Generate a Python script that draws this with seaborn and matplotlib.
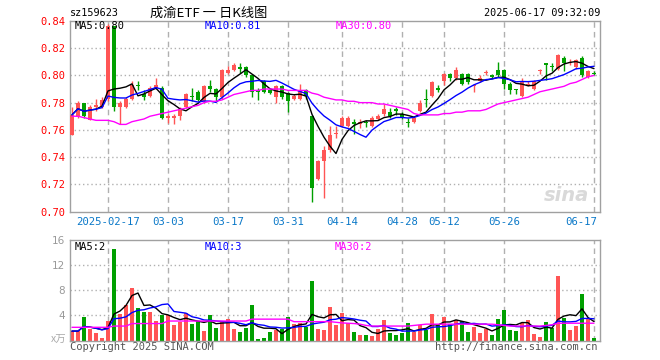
import matplotlib
matplotlib.use("Agg")
import matplotlib.pyplot as plt
import pandas as pd
import seaborn as sns
import numpy as np

# daily candles, 2025-02-07 .. 2025-06-17 (88 trading days)
opens = [0.756, 0.770, 0.780, 0.767, 0.777, 0.777, 0.783, 0.836, 0.777, 0.777,
         0.783, 0.793, 0.786, 0.785, 0.791, 0.791, 0.769, 0.769, 0.770, 0.777,
         0.785, 0.788, 0.781, 0.792, 0.790, 0.784, 0.802, 0.804, 0.806, 0.806,
         0.800, 0.789, 0.796, 0.789, 0.784, 0.792, 0.787, 0.783, 0.783, 0.789,
         0.770, 0.724, 0.737, 0.745, 0.757, 0.763, 0.763, 0.766, 0.764, 0.766,
         0.763, 0.768, 0.772, 0.773, 0.775, 0.772, 0.766, 0.766, 0.774, 0.783,
         0.785, 0.791, 0.796, 0.801, 0.798, 0.801, 0.801, 0.792, 0.796, 0.8015,
         0.800, 0.804, 0.804, 0.794, 0.790, 0.785, 0.793, 0.790, 0.803, 0.809,
         0.807, 0.805, 0.813, 0.809, 0.806, 0.813, 0.799, 0.802]
closes = [0.771, 0.780, 0.770, 0.777, 0.778, 0.782, 0.836, 0.777, 0.780, 0.783,
          0.793, 0.792, 0.784, 0.791, 0.793, 0.769, 0.770, 0.770, 0.775, 0.786,
          0.784, 0.782, 0.792, 0.790, 0.784, 0.804, 0.804, 0.808, 0.805, 0.800,
          0.788, 0.788, 0.788, 0.787, 0.792, 0.784, 0.781, 0.785, 0.789, 0.785,
          0.717, 0.737, 0.745, 0.756, 0.758, 0.769, 0.769, 0.764, 0.766, 0.765,
          0.769, 0.770, 0.775, 0.770, 0.774, 0.769, 0.765, 0.769, 0.780, 0.782,
          0.795, 0.789, 0.801, 0.798, 0.804, 0.794, 0.795, 0.793, 0.798, 0.8025,
          0.799, 0.800, 0.794, 0.789, 0.789, 0.796, 0.794, 0.796, 0.804, 0.808,
          0.806, 0.815, 0.809, 0.810, 0.811, 0.800, 0.803, 0.801]
highs = [0.777, 0.781, 0.780, 0.778, 0.783, 0.784, 0.838, 0.836, 0.781, 0.784,
         0.796, 0.796, 0.789, 0.792, 0.798, 0.792, 0.772, 0.772, 0.777, 0.787,
         0.791, 0.789, 0.793, 0.797, 0.791, 0.805, 0.807, 0.809, 0.809, 0.807,
         0.801, 0.791, 0.797, 0.790, 0.793, 0.793, 0.788, 0.786, 0.794, 0.790,
         0.771, 0.738, 0.748, 0.763, 0.763, 0.770, 0.770, 0.768, 0.768, 0.767,
         0.770, 0.772, 0.779, 0.776, 0.777, 0.773, 0.769, 0.770, 0.782, 0.790,
         0.796, 0.793, 0.802, 0.802, 0.806, 0.802, 0.802, 0.794, 0.800, 0.804,
         0.801, 0.810, 0.805, 0.795, 0.790, 0.798, 0.796, 0.797, 0.805, 0.809,
         0.809, 0.816, 0.814, 0.812, 0.812, 0.814, 0.804, 0.803]
lows = [0.756, 0.769, 0.769, 0.767, 0.774, 0.776, 0.781, 0.774, 0.764, 0.776,
        0.782, 0.789, 0.782, 0.784, 0.790, 0.768, 0.765, 0.764, 0.767, 0.776,
        0.781, 0.781, 0.780, 0.788, 0.781, 0.783, 0.801, 0.803, 0.802, 0.799,
        0.784, 0.782, 0.787, 0.786, 0.780, 0.783, 0.773, 0.782, 0.782, 0.783,
        0.707, 0.723, 0.710, 0.744, 0.754, 0.762, 0.762, 0.757, 0.761, 0.762,
        0.762, 0.767, 0.770, 0.769, 0.771, 0.768, 0.762, 0.765, 0.773, 0.777,
        0.784, 0.788, 0.793, 0.796, 0.797, 0.793, 0.794, 0.788, 0.795, 0.800,
        0.798, 0.799, 0.790, 0.786, 0.786, 0.784, 0.792, 0.789, 0.801, 0.797,
        0.803, 0.804, 0.803, 0.808, 0.805, 0.799, 0.798, 0.800]
# MA30 of price as drawn (history before 02-07 not shown)
ma30 = [0.770, 0.770, 0.769, 0.768, 0.767, 0.767, 0.767, 0.766, 0.764, 0.764,
        0.766, 0.767, 0.768, 0.770, 0.771, 0.772, 0.773, 0.774, 0.775, 0.776,
        0.777, 0.778, 0.780, 0.781, 0.781, 0.782, 0.784, 0.786, 0.787, 0.788,
        0.789, 0.789, 0.790, 0.790, 0.790, 0.790, 0.789, 0.789, 0.789, 0.789,
        0.787, 0.786, 0.784, 0.783, 0.782, 0.782, 0.781, 0.781, 0.780, 0.780,
        0.780, 0.779, 0.779, 0.778, 0.777, 0.776, 0.775, 0.772, 0.771, 0.771,
        0.771, 0.771, 0.772, 0.772, 0.773, 0.773, 0.774, 0.774, 0.774, 0.775,
        0.777, 0.779, 0.780, 0.781, 0.782, 0.783, 0.784, 0.786, 0.788, 0.789,
        0.790, 0.791, 0.792, 0.794, 0.795, 0.797, 0.799, 0.800]

# volume, 万
volume = [1.5, 1.5, 3.7, 1.8, 1.25, 0.4, 3.1, 14.5, 4.2, 5.7,
          8.3, 5.1, 4.6, 4.6, 3.1, 4.0, 4.1, 2.5, 2.9, 4.3,
          2.6, 3.1, 1.5, 4.1, 2.05, 3.1, 3.4, 1.8, 1.4, 2.05,
          5.7, 0.25, 0.4, 1.4, 1.6, 1.8, 3.7, 2.6, 2.85, 2.2,
          9.4, 1.85, 1.7, 5.3, 2.5, 4.4, 2.75, 1.3, 0.9, 0.88,
          0.7, 1.8, 3.3, 1.2, 0.9, 1.25, 2.8, 1.4, 2.5, 1.7,
          4.2, 2.5, 3.8, 2.6, 3.3, 3.1, 1.4, 2.2, 1.2, 1.9,
          0.9, 3.4, 4.9, 1.7, 1.5, 2.8, 3.3, 1.0, 0.55, 3.0,
          2.0, 10.3, 3.6, 1.6, 2.3, 7.4, 3.4, 0.4]
vol_ma30 = [2.1, 2.1, 2.1, 2.1, 2.1, 2.1, 2.1, 2.3, 2.3, 2.3,
            2.7, 2.7, 2.7, 2.7, 2.7, 2.7, 3.1, 3.1, 3.1, 3.1,
            3.1, 3.1, 3.1, 3.1, 3.1, 3.1, 3.1, 3.1, 3.1, 3.1,
            3.4, 3.4, 3.4, 3.4, 3.4, 3.4, 3.4, 3.0, 3.0, 3.0,
            3.0, 3.0, 3.0, 3.0, 2.9, 2.8, 2.75, 2.7, 2.6, 2.4,
            2.3, 2.3, 2.3, 2.3, 2.3, 2.3, 2.3, 2.4, 2.5, 2.6,
            2.6, 2.6, 2.6, 2.6, 2.6, 2.6, 2.6, 2.6, 2.6, 2.6,
            2.6, 2.5, 2.4, 2.3, 2.3, 2.3, 2.3, 2.3, 2.3, 2.4,
            2.5, 2.75, 2.75, 2.75, 2.75, 2.75, 2.75, 2.75]

tick_idx = [6, 16, 26, 36, 45, 55, 62, 72, 87]
tick_labels = ["2025-02-17", "03-03", "03-17", "03-31", "04-14",
               "04-28", "05-12", "05-26", "06-17"]

df = pd.DataFrame({"o": opens, "c": closes, "h": highs, "l": lows,
                   "vol": volume, "ma30": ma30, "vma30": vol_ma30})
df["i"] = np.arange(len(df))
df["ma5"] = df["c"].rolling(5, min_periods=1).mean()
df["ma10"] = df["c"].rolling(10, min_periods=1).mean()
df["vma5"] = df["vol"].rolling(5, min_periods=1).mean()
df["vma10"] = df["vol"].rolling(10, min_periods=1).mean()

RED = "#ff5555"
GREEN = "#00a000"
up = df["c"] >= df["o"]
colors = np.where(up, RED, GREEN)

sns.set_style("white")
plt.rcParams["font.family"] = ["DejaVu Sans Mono", "Noto Sans CJK SC"]

W, H = 660, 360
fig = plt.figure(figsize=(6.6, 3.6), dpi=100)

def rect(l, t, r, b):
    return [l / W, 1 - b / H, (r - l) / W, (b - t) / H]

def fxy(x, y):
    return x / W, 1 - y / H

ax = fig.add_axes(rect(70, 21, 600, 211.5))
axv = fig.add_axes(rect(70, 240, 600, 340.5))

for a in (ax, axv):
    a.set_xlim(-0.33, 88)
    for s in a.spines.values():
        s.set_color("#a0a0a0")
        s.set_linewidth(1)
    a.tick_params(length=0)
    a.set_xticks([])
    for t in tick_idx:
        a.axvline(t, color="#b0b0b0", lw=1, ls=(0, (4, 3)), zorder=0)

# price panel
ax.set_ylim(0.70, 0.84)
yt = np.round(np.arange(0.70, 0.841, 0.02), 2)
ax.set_yticks(yt)
ax.set_yticklabels(["%.2f" % v for v in yt], color="red", fontsize=7.5)
ax.tick_params(axis="y", pad=3)
for v in yt[1:-1]:
    ax.axhline(v, color="#b0b0b0", lw=1, ls=(0, (1, 2)), zorder=0)

body = (df["c"] - df["o"]).abs().clip(lower=0.0008)
bottom = df[["o", "c"]].min(axis=1)
ax.vlines(df["i"], df["l"], df["h"], colors=colors, lw=1, zorder=2)
ax.bar(df["i"], body, bottom=bottom, width=0.8, color=colors, lw=0, zorder=3)

sns.lineplot(data=df, x="i", y="ma5", ax=ax, color="black", lw=1, zorder=4)
sns.lineplot(data=df, x="i", y="ma10", ax=ax, color="#0000ff", lw=1, zorder=4)
sns.lineplot(data=df, x="i", y="ma30", ax=ax, color="#ff00ff", lw=1, zorder=4)
ax.set_xlabel("")
ax.set_ylabel("")

ax.text(93 / 660 * 0 + 0.9, 0.0, "")
fig.text(*fxy(75, 26), "MA5:0.80", color="black", fontsize=7.5, va="center")
fig.text(*fxy(205, 26), "MA10:0.81", color="#0000ff", fontsize=7.5, va="center")
fig.text(*fxy(336, 26), "MA30:0.80", color="#ff00ff", fontsize=7.5, va="center")
fig.text(*fxy(566, 196), "sina", color="#d9d9d9", fontsize=14, style="italic",
         fontweight="bold", family="DejaVu Sans", ha="center", va="center")

# x labels
for t, lab in zip(tick_idx, tick_labels):
    x = 72 + 6 * t
    ha = "center"
    if t == tick_idx[-1]:
        x, ha = 597, "right"
    fig.text(*fxy(x, 222), lab, color="#0a78c8", fontsize=7.7,
             ha=ha, va="center")

# volume panel
axv.set_ylim(0, 16)
axv.set_yticks([0, 4, 8, 12, 16])
axv.set_yticklabels(["", "4", "8", "12", "16"], color="#999999",
                    fontsize=7.5, family="DejaVu Sans")
for v in (4, 8, 12):
    axv.axhline(v, color="#b0b0b0", lw=1, ls=(0, (1, 2)), zorder=0)
axv.bar(df["i"], df["vol"], width=0.8, color=colors, lw=0, zorder=2)
sns.lineplot(data=df, x="i", y="vma5", ax=axv, color="black", lw=1, zorder=4)
sns.lineplot(data=df, x="i", y="vma10", ax=axv, color="#0000ff", lw=1, zorder=4)
sns.lineplot(data=df, x="i", y="vma30", ax=axv, color="#ff00ff", lw=1, zorder=4)
axv.set_xlabel("")
axv.set_ylabel("")

fig.text(*fxy(75, 247), "MA5:2", color="black", fontsize=7.5, va="center")
fig.text(*fxy(205, 247), "MA10:3", color="#0000ff", fontsize=7.5, va="center")
fig.text(*fxy(335, 247), "MA30:2", color="#ff00ff", fontsize=7.5, va="center")
fig.text(*fxy(66, 340), "x万", color="#aaaaaa", fontsize=7.5, ha="right",
         va="center", family=["Noto Sans CJK SC", "DejaVu Sans"])

# header / footer
fig.text(*fxy(70, 13), "sz159623", color="black", fontsize=7.3, va="center")
fig.text(*fxy(150, 13), "成渝ETF 一 日K线图", color="black", fontsize=9.5,
         va="center", family=["Noto Sans CJK SC", "DejaVu Sans"])
fig.text(*fxy(600, 13), "2025-06-17 09:32:09", color="black", fontsize=7.3,
         ha="right", va="center")
fig.text(*fxy(70, 347), "Copyright 2025 SINA.COM", color="#555555",
         fontsize=7.5, va="center")
fig.text(*fxy(598, 347), "http://finance.sina.com.cn", color="#555555",
         fontsize=7.5, ha="right", va="center")

fig.savefig("out.png", dpi=100)
